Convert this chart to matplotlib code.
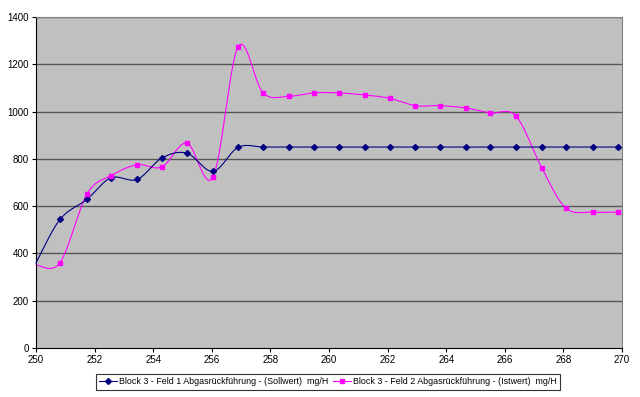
import numpy as np
import matplotlib.pyplot as plt
from matplotlib.lines import Line2D

plt.rcParams['font.family'] = ['Liberation Sans', 'DejaVu Sans']

# x-Werte (Messzeitpunkte)
x = [250.00, 250.82, 251.74, 252.56, 253.45, 254.30, 255.15, 256.04,
     256.90, 257.75, 258.63, 259.49, 260.34, 261.23, 262.08, 262.94,
     263.79, 264.68, 265.50, 266.38, 267.27, 268.09, 269.00, 269.86]

soll = [360, 544, 629, 720, 713, 804, 824, 747,
        849, 850, 850, 850, 850, 850, 850, 850,
        850, 850, 850, 850, 850, 850, 850, 850]

ist = [351, 361, 651, 729, 775, 766, 867, 723,
       1275, 1079, 1065, 1079, 1079, 1070, 1056, 1025,
       1025, 1015, 994, 981, 760, 591, 575, 575]

label_soll = "Block 3 - Feld 1 Abgasrückführung - (Sollwert)  mg/H"
label_ist = "Block 3 - Feld 2 Abgasrückführung - (Istwert)  mg/H"


def excel_smooth(xs, ys, n=30):
    # Bezier-Glättung wie in Excel (Catmull-Rom, Kontrollpunkte 1/6)
    p = np.column_stack([xs, ys]).astype(float)
    ext = np.vstack([p[0], p, p[-1]])
    t = np.linspace(0, 1, n)[:, None]
    out = []
    for i in range(len(p) - 1):
        p0, p1, p2, p3 = ext[i], ext[i + 1], ext[i + 2], ext[i + 3]
        c1 = p1 + (p2 - p0) / 6
        c2 = p2 - (p3 - p1) / 6
        seg = ((1 - t) ** 3) * p1 + 3 * ((1 - t) ** 2) * t * c1 \
            + 3 * (1 - t) * t ** 2 * c2 + t ** 3 * p2
        out.append(seg if i == 0 else seg[1:])
    out = np.vstack(out)
    return out[:, 0], out[:, 1]


fig = plt.figure(figsize=(6.4, 3.97), dpi=100)
ax = fig.add_axes([36 / 640, 1 - 348 / 397, 586 / 640, 331 / 397])
ax.set_facecolor('#C0C0C0')

for yv in range(200, 1401, 200):
    ax.axhline(yv, color='#555555', lw=1.0, zorder=1)

sx, sy = excel_smooth(x, soll)
ax.plot(sx, sy, color='#000080', lw=0.8, zorder=3, clip_on=False)
ax.plot(x[1:], soll[1:], ls='none', marker='D', ms=3, color='#000080', zorder=4)

ix, iy = excel_smooth(x, ist)
ax.plot(ix, iy, color='#FF00FF', lw=0.8, zorder=2, clip_on=False)
ax.plot(x[1:], ist[1:], ls='none', marker='s', ms=3.5, color='#FF00FF', zorder=4)

ax.set_xlim(250, 270)
ax.set_ylim(0, 1400)
ax.set_xticks(range(250, 271, 2))
ax.set_yticks(range(0, 1401, 200))
ax.tick_params(labelsize=7, length=3, width=0.8, color='black', pad=2)

for s in ['top', 'right']:
    ax.spines[s].set_color('#808080')
for s in ['left', 'bottom']:
    ax.spines[s].set_color('black')

handles = [
    Line2D([], [], color='#000080', lw=0.8, marker='D', ms=3, label=label_soll),
    Line2D([], [], color='#FF00FF', lw=0.8, marker='s', ms=3.5, label=label_ist),
]
leg = fig.legend(handles=handles, loc='center', bbox_to_anchor=(328 / 640, 1 - 382 / 397),
                 ncol=2, fontsize=6.4, frameon=True, fancybox=False, edgecolor='black',
                 handlelength=2.0, handletextpad=0.3, columnspacing=0.5,
                 borderpad=0.35, borderaxespad=0)
leg.get_frame().set_linewidth(0.8)

plt.savefig('out.png', dpi=100)
